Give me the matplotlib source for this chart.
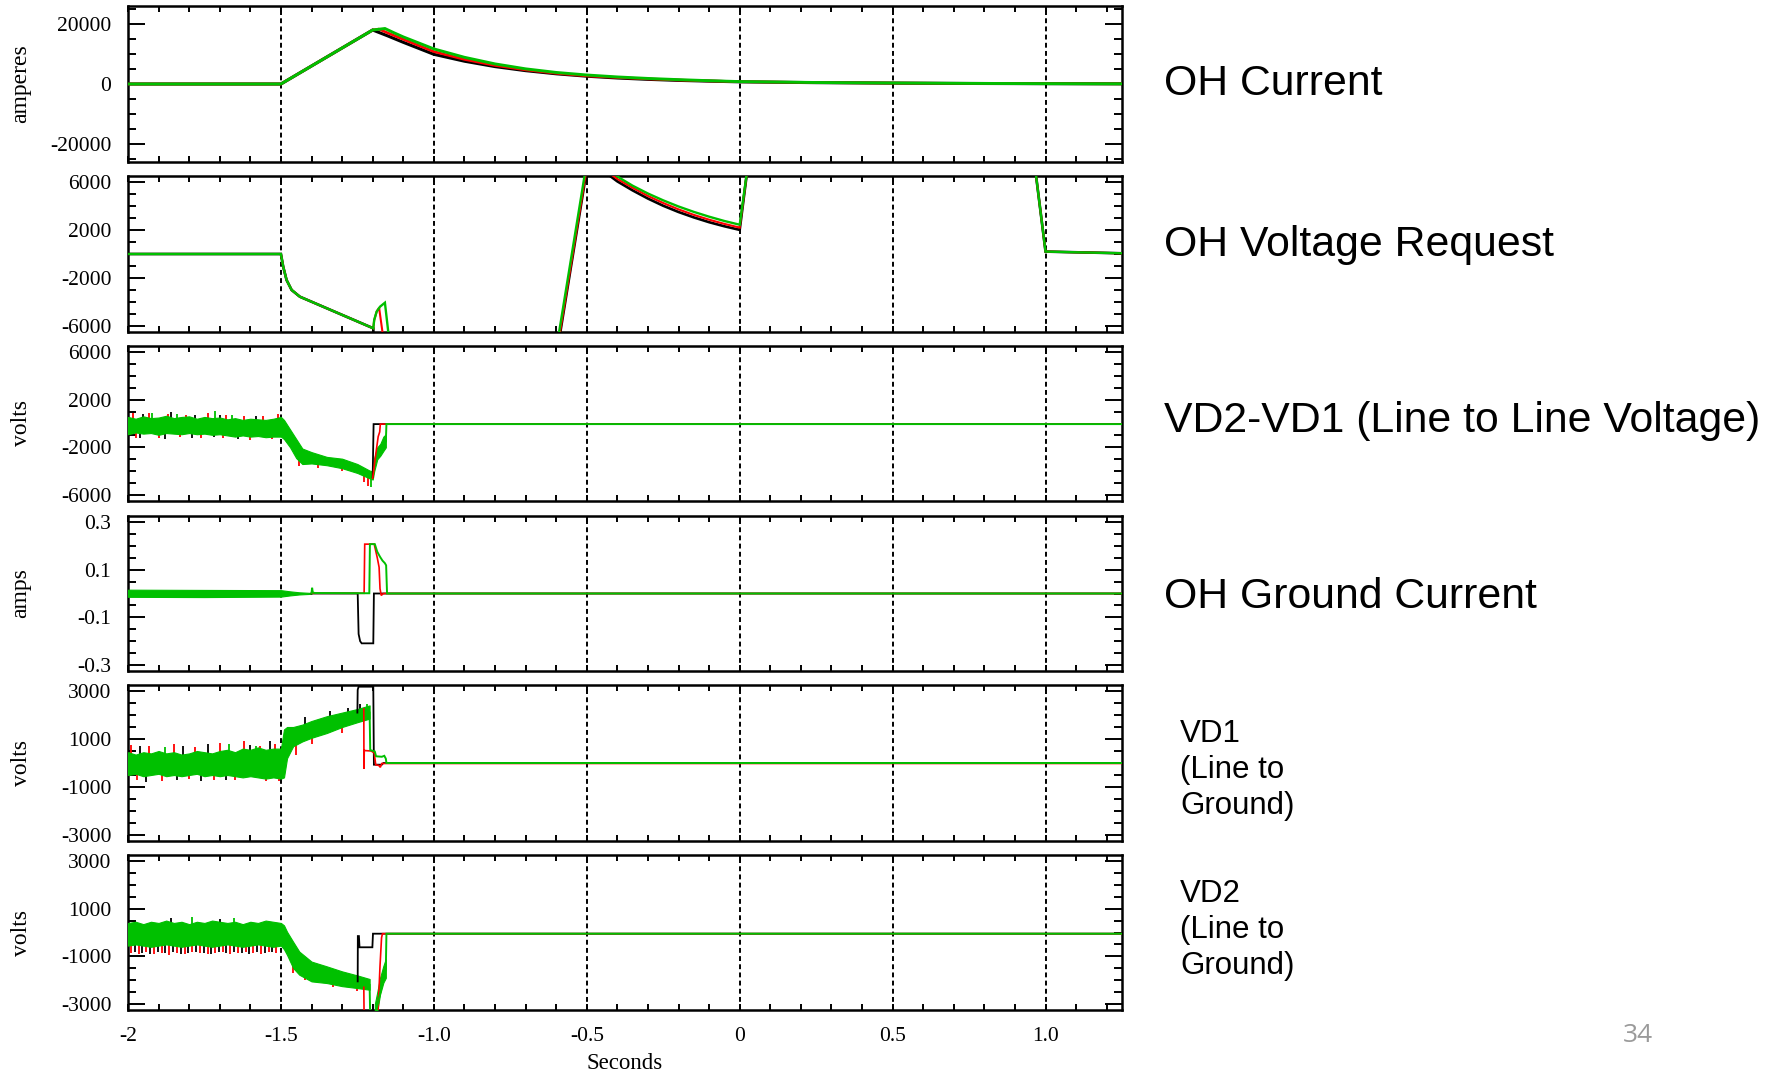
import numpy as np
import matplotlib
matplotlib.use("Agg")
import matplotlib.pyplot as plt
from matplotlib.ticker import MultipleLocator

plt.rcParams["font.family"] = ["Liberation Serif", "DejaVu Serif"]

# ---------------------------------------------------------------------
# data (seconds relative to the event, three shots: black / red / green)
# ---------------------------------------------------------------------

# OH current [A]
t_ohc_black = [-2.0, -1.5, -1.2, -1.15, -1.1, -1.0, -0.9, -0.8, -0.7, -0.6, -0.5,
               -0.4, -0.3, -0.2, -0.1, 0.0, 0.25, 0.5, 0.75, 1.0, 1.25]
ohc_black = [0, 0, 18000, 16000, 13900, 9900, 7600, 5800, 4450, 3400, 2600,
             2000, 1550, 1200, 950, 720, 450, 300, 180, 110, 55]
t_ohc_red = [-2.0, -1.5, -1.2, -1.18, -1.15, -1.1, -1.0, -0.9, -0.8, -0.7, -0.6,
             -0.5, -0.4, -0.3, -0.2, -0.1, 0.0, 0.25, 0.5, 0.75, 1.0, 1.25]
ohc_red = [0, 0, 18000, 18300, 17000, 14900, 10800, 8200, 6200, 4700, 3570,
           2700, 2170, 1700, 1320, 1020, 760, 470, 310, 190, 115, 58]
t_ohc_green = [-2.0, -1.5, -1.2, -1.16, -1.133, -1.1, -1.0, -0.9, -0.8, -0.7, -0.6,
               -0.5, -0.4, -0.3, -0.2, -0.1, 0.0, 0.25, 0.5, 0.75, 1.0, 1.25]
ohc_green = [0, 0, 18000, 18500, 17200, 15700, 11700, 8900, 6700, 5050, 3850,
             3000, 2350, 1850, 1450, 1100, 800, 500, 330, 200, 120, 60]

# OH voltage request [V] (goes off scale, clipped by the axes)
t_ohv_black = [-2.0, -1.5, -1.4925, -1.4815, -1.465, -1.438, -1.198, -1.196, -0.596,
               -0.481, -0.45, -0.40, -0.35, -0.30, -0.25, -0.20, -0.15, -0.10, -0.05,
               0.0, 0.03, 0.95, 1.0, 1.25]
ohv_black = [0, 0, -1060, -2170, -3000, -3560, -6190, -9000, -8000,
             10000, 7000, 6050, 5300, 4620, 4020, 3500, 3050, 2650, 2310,
             2010, 8000, 10400, 200, 60]
t_ohv_red = [-2.0, -1.5, -1.4925, -1.4815, -1.465, -1.438, -1.198, -1.195, -1.187,
             -1.179, -1.168, -1.162, -0.597, -0.482, -0.44, -0.40, -0.35, -0.30,
             -0.25, -0.20, -0.15, -0.10, -0.05, 0.0, 0.03, 0.95, 1.0, 1.25]
ohv_red = [0, 0, -1060, -2170, -3000, -3560, -6190, -5500, -4800,
           -4480, -6500, -9000, -8000, 10000, 7000, 6250, 5520, 4840,
           4250, 3720, 3260, 2860, 2510, 2200, 8000, 10400, 200, 60]
t_ohv_green = [-2.0, -1.5, -1.4925, -1.4815, -1.465, -1.438, -1.198, -1.195, -1.187,
               -1.176, -1.16, -1.149, -1.145, -0.60, -0.485, -0.43, -0.39, -0.35,
               -0.30, -0.25, -0.20, -0.15, -0.10, -0.05, 0.0, 0.03, 0.95, 1.0, 1.25]
ohv_green = [0, 0, -1060, -2170, -3000, -3560, -6190, -5500, -4800,
             -4390, -4060, -6500, -9000, -8000, 10000, 7000, 6300, 5690,
             5040, 4470, 3960, 3510, 3110, 2750, 2440, 8000, 10400, 200, 60]

# VD2-VD1 line to line voltage [V]
t_ll_band = [-2.0, -1.975, -1.95, -1.925, -1.9, -1.875, -1.85, -1.825, -1.8, -1.775,
             -1.75, -1.725, -1.7, -1.675, -1.65, -1.625, -1.6, -1.575, -1.55, -1.525,
             -1.5, -1.49, -1.47, -1.45, -1.43, -1.40, -1.35, -1.30, -1.25, -1.21,
             -1.20, -1.195, -1.185, -1.175, -1.165, -1.157]
ll_hi = [550, 400, 600, 450, 500, 650, 450, 550, 600, 400,
         550, 450, 500, 350, 450, 300, 400, 350, 300, 400,
         550, 300, -500, -1300, -2100, -2400, -2800, -2950, -3400, -3950,
         -4000, -2900, -2000, -1700, -1100, -900]
ll_lo = [-900, -750, -850, -800, -950, -800, -850, -900, -800, -900,
         -850, -950, -900, -1000, -1100, -1000, -1100, -1050, -1150, -1100,
         -1100, -1300, -2000, -2900, -3400, -3350, -3500, -3750, -4150, -4600,
         -4700, -4000, -3000, -2700, -2300, -2000]
ll_red_spk_t = [-1.985, -1.93, -1.87, -1.81, -1.74, -1.68, -1.62, -1.56, -1.51,
                -1.975, -1.9, -1.83, -1.76, -1.69, -1.6, -1.53,
                -1.44, -1.38, -1.30, -1.23, -1.215]
ll_red_spk_v = [900, 850, 800, 750, 850, 700, 650, 600, 800,
                -1250, -1200, -1150, -1200, -1250, -1350, -1300,
                -3600, -3700, -4000, -4900, -5200]
ll_blk_spk_t = [-1.95, -1.86, -1.78, -1.7, -1.58, -1.96, -1.88, -1.79, -1.72, -1.64, -1.54]
ll_blk_spk_v = [800, 950, 750, 700, 650, -1200, -1300, -1250, -1150, -1300, -1250]
ll_grn_spk_t = [-1.92, -1.84, -1.716, -1.66, -1.207]
ll_grn_spk_v = [850, 800, 1070, 700, -5300]
t_ll_black = [-1.2, -1.197, 1.25]
ll_black = [-4500, -50, -50]
t_ll_red = [-1.2, -1.19, -1.182, -1.177, -1.175, 1.25]
ll_red = [-4600, -2600, -1100, -700, -50, -50]
t_ll_green = [-1.157, -1.155, 1.25]
ll_green = [-1500, -50, -50]

# OH ground current [A]
t_gnd_band = [-2.0, -1.75, -1.5, -1.47, -1.44, -1.41, -1.40]
gnd_hi = [0.016, 0.015, 0.014, 0.009, 0.005, 0.003, 0.002]
gnd_lo = [-0.014, -0.015, -0.013, -0.008, -0.004, -0.002, -0.001]
t_gnd_black = [-1.40, -1.249, -1.246, -1.241, -1.236, -1.198, -1.196, 1.25]
gnd_black = [0.0, 0.0, -0.17, -0.2, -0.209, -0.209, 0.0, 0.0]
t_gnd_red = [-1.40, -1.228, -1.226, -1.195, -1.185, -1.179, -1.176, -1.172, -1.165, 1.25]
gnd_red = [0.001, 0.001, 0.207, 0.207, 0.15, 0.11, 0.02, -0.008, 0.0, 0.0]
t_gnd_green = [-1.40, -1.398, -1.396, -1.39, -1.211, -1.209, -1.193, -1.185, -1.176,
               -1.168, -1.16, -1.156, -1.153, 1.25]
gnd_green = [0.002, 0.024, 0.005, 0.002, 0.001, 0.207, 0.207, 0.175, 0.154,
             0.138, 0.127, 0.118, 0.0, 0.0]

# VD1 line to ground [V]
t_vd1_band = [-2.0, -1.975, -1.95, -1.925, -1.9, -1.875, -1.85, -1.825, -1.8, -1.775,
              -1.75, -1.725, -1.7, -1.675, -1.65, -1.625, -1.6, -1.575, -1.55, -1.525,
              -1.5, -1.49, -1.48, -1.46, -1.43, -1.40, -1.35, -1.30, -1.25, -1.21]
vd1_hi = [450, 350, 450, 400, 500, 400, 450, 350, 400, 500,
          450, 400, 500, 550, 450, 600, 550, 650, 550, 600,
          600, 1400, 1500, 1500, 1600, 1750, 1950, 2100, 2250, 2400]
vd1_lo = [-500, -450, -550, -500, -450, -550, -500, -550, -500, -450,
          -550, -500, -550, -500, -550, -600, -550, -600, -650, -600,
          -650, -600, 200, 700, 900, 1050, 1250, 1500, 1700, 1850]
vd1_red_spk_t = [-1.99, -1.93, -1.85, -1.78, -1.70, -1.62, -1.57, -1.52,
                 -1.97, -1.89, -1.80, -1.72, -1.65, -1.55, -1.505, -1.45, -1.40, -1.30]
vd1_red_spk_v = [750, 700, 800, 650, 850, 900, 700, 800,
                 -700, -750, -650, -700, -700, -750, -750, 350, 800, 1250]
vd1_blk_spk_t = [-1.96, -1.82, -1.74, -1.60, -1.535, -1.94, -1.84, -1.76, -1.68,
                 -1.42, -1.34, -1.28, -1.24]
vd1_blk_spk_v = [700, 700, 800, 750, 900, -800, -700, -750, -700,
                 1900, 2150, 2300, 2450]
vd1_grn_spk_t = [-1.88, -1.67, -1.58, -1.22]
vd1_grn_spk_v = [650, 800, 700, 2450]
t_vd1_black = [-1.25, -1.249, -1.246, -1.198, -1.196, -1.17, -1.165, 1.25]
vd1_black = [2100, 3050, 3180, 3180, -70, -70, 0, 0]
t_vd1_red = [-1.229, -1.2285, -1.2275, -1.205, -1.195, -1.19, -1.18, -1.175, -1.17, 1.25]
vd1_red = [2250, -250, 520, 500, 420, -80, -100, -180, -20, -20]
t_vd1_green = [-1.21, -1.208, -1.193, -1.189, -1.17, -1.162, -1.157, -1.155, 1.25]
vd1_green = [2100, 540, 480, 280, 260, 300, 180, 0, 0]

# VD2 line to ground [V]
t_vd2_band = [-2.0, -1.975, -1.95, -1.925, -1.9, -1.875, -1.85, -1.825, -1.8, -1.775,
              -1.75, -1.725, -1.7, -1.675, -1.65, -1.625, -1.6, -1.575, -1.55, -1.525,
              -1.5, -1.49, -1.48, -1.46, -1.44, -1.40, -1.35, -1.30, -1.25, -1.21]
vd2_hi = [400, 450, 350, 450, 400, 500, 400, 450, 350, 450,
          400, 500, 450, 400, 450, 350, 450, 400, 500, 450,
          400, 300, 30, -390, -800, -1220, -1420, -1630, -1800, -1950]
vd2_lo = [-550, -500, -550, -600, -550, -500, -550, -600, -550, -500,
          -550, -600, -550, -500, -550, -600, -550, -500, -550, -600,
          -550, -700, -940, -1490, -1770, -2050, -2120, -2250, -2330, -2400]
t_vd2_band2 = [-1.193, -1.185, -1.176, -1.165, -1.157]
vd2_hi2 = [-3000, -2500, -1900, -1400, -1100]
vd2_lo2 = [-3500, -3300, -2600, -2100, -1900]
vd2_red_spk_t = [-1.99, -1.965, -1.94, -1.915, -1.89, -1.865, -1.84, -1.815, -1.79, -1.765,
                 -1.74, -1.715, -1.69, -1.665, -1.64, -1.615, -1.59, -1.565, -1.54, -1.515,
                 -1.46, -1.42, -1.33, -1.25]
vd2_red_spk_v = [-850, -900, -800, -900, -850, -950, -850, -900, -800, -850,
                 -900, -850, -800, -900, -850, -800, -850, -900, -800, -850,
                 -1700, -2000, -2300, -2450]
vd2_blk_spk_t = [-1.978, -1.953, -1.928, -1.903, -1.878, -1.853, -1.828, -1.803, -1.778,
                 -1.753, -1.728, -1.703, -1.678, -1.653, -1.628, -1.603, -1.578, -1.553,
                 -1.528, -1.86, -1.70]
vd2_blk_spk_v = [-800, -850, -900, -800, -850, -800, -900, -850, -800,
                 -850, -900, -800, -850, -800, -850, -900, -800, -850,
                 -800, 600, 550]
vd2_grn_spk_t = [-1.79, -1.655]
vd2_grn_spk_v = [650, 600]
t_vd2_black = [-1.249, -1.2485, -1.245, -1.243, -1.201, -1.199, 1.25]
vd2_black = [-2050, -150, -150, -620, -620, -50, -50]
t_vd2_red = [-1.229, -1.228, -1.185, -1.182, -1.176, -1.171, -1.168, 1.25]
vd2_red = [-2300, -3600, -3600, -3200, -1400, -220, -50, -50]
t_vd2_green = [-1.21, -1.208, -1.194, -1.157, -1.155, 1.25]
vd2_green = [-2200, -3600, -3600, -1500, -50, -50]

# axes
X_TICKS = [-2.0, -1.5, -1.0, -0.5, 0.0, 0.5, 1.0]
X_LABELS = ["-2", "-1.5", "-1.0", "-0.5", "0", "0.5", "1.0"]
PANEL_TEXT = ["OH Current", "OH Voltage Request", "VD2-VD1 (Line to Line Voltage)",
              "OH Ground Current", "VD1\n(Line to\nGround)", "VD2\n(Line to\nGround)"]

# ---------------------------------------------------------------------
# layout / style
# ---------------------------------------------------------------------
FIG_W, FIG_H, DPI = 1777, 1071, 100
AX_LEFT, AX_RIGHT = 128, 1122
PANEL_PIX = [(6, 162), (176, 332), (346, 501), (516, 671), (685, 841), (855, 1010)]

BLACK = "#000000"
RED = "#ff0000"
GREEN = "#00c000"
DASH = (0, (2.5, 1.7))

PANEL_CFG = [
    dict(ylim=(-26000, 26000), ticks=[-20000, 0, 20000], labels=["-20000", "0", "20000"],
         minor=5000, ylabel="amperes"),
    dict(ylim=(-6500, 6500), ticks=[-6000, -2000, 2000, 6000],
         labels=["-6000", "-2000", "2000", "6000"], minor=1000, ylabel=""),
    dict(ylim=(-6500, 6500), ticks=[-6000, -2000, 2000, 6000],
         labels=["-6000", "-2000", "2000", "6000"], minor=1000, ylabel="volts"),
    dict(ylim=(-0.325, 0.325), ticks=[-0.3, -0.1, 0.1, 0.3],
         labels=["-0.3", "-0.1", "0.1", "0.3"], minor=0.05, ylabel="amps"),
    dict(ylim=(-3250, 3250), ticks=[-3000, -1000, 1000, 3000],
         labels=["-3000", "-1000", "1000", "3000"], minor=500, ylabel="volts"),
    dict(ylim=(-3250, 3250), ticks=[-3000, -1000, 1000, 3000],
         labels=["-3000", "-1000", "1000", "3000"], minor=500, ylabel="volts"),
]


def style_axis(ax, cfg, show_x):
    ax.set_xlim(-2.0, 1.25)
    ax.set_ylim(*cfg["ylim"])
    ax.set_xticks(X_TICKS)
    ax.xaxis.set_minor_locator(MultipleLocator(0.1))
    ax.set_yticks(cfg["ticks"])
    ax.set_yticklabels(cfg["labels"])
    ax.yaxis.set_minor_locator(MultipleLocator(cfg["minor"]))
    ax.tick_params(axis="both", which="both", direction="in", top=True, right=True,
                   width=1.4, color="black")
    ax.tick_params(axis="y", which="major", length=12, pad=12, labelsize=15.5)
    ax.tick_params(axis="y", which="minor", length=6)
    ax.tick_params(axis="x", which="both", length=4, pad=12, labelsize=15.5)
    if show_x:
        ax.set_xticklabels(X_LABELS)
    else:
        ax.tick_params(axis="x", labelbottom=False)
    ax.grid(axis="x", which="major", color="black", linestyle=DASH, linewidth=1.4)
    ax.set_axisbelow(True)
    for sp in ax.spines.values():
        sp.set_linewidth(1.8)
    if cfg["ylabel"]:
        ax.set_ylabel(cfg["ylabel"], fontsize=17)
        ax.yaxis.set_label_coords(-0.097, 0.5)


def line(ax, t, v, color, lw, z):
    ax.plot(t, v, color=color, linewidth=lw, zorder=z, solid_joinstyle="miter")


def band(ax, t, lo, hi, color=GREEN, z=3):
    ax.fill_between(t, lo, hi, color=color, linewidth=0.8, zorder=z)


def spikes(ax, t, tips, band_t, band_lo, band_hi, color, z):
    mid = (np.asarray(band_lo, float) + np.asarray(band_hi, float)) / 2
    base = np.interp(t, band_t, mid)
    ax.vlines(t, base, tips, colors=color, linewidth=1.3, zorder=z)


fig = plt.figure(figsize=(FIG_W / DPI, FIG_H / DPI), dpi=DPI)
axes = []
for i, (top, bot) in enumerate(PANEL_PIX):
    ax = fig.add_axes([AX_LEFT / FIG_W, 1 - bot / FIG_H,
                       (AX_RIGHT - AX_LEFT) / FIG_W, (bot - top) / FIG_H])
    style_axis(ax, PANEL_CFG[i], show_x=(i == len(PANEL_PIX) - 1))
    axes.append(ax)

# OH current
ax = axes[0]
line(ax, t_ohc_black, ohc_black, BLACK, 2.2, 4)
line(ax, t_ohc_red, ohc_red, RED, 1.9, 5)
line(ax, t_ohc_green, ohc_green, GREEN, 2.1, 6)

# OH voltage request
ax = axes[1]
line(ax, t_ohv_black, ohv_black, BLACK, 1.9, 4)
line(ax, t_ohv_red, ohv_red, RED, 1.5, 5)
line(ax, t_ohv_green, ohv_green, GREEN, 1.7, 6)

# VD2-VD1
ax = axes[2]
spikes(ax, ll_blk_spk_t, ll_blk_spk_v, t_ll_band, ll_lo, ll_hi, BLACK, 2)
spikes(ax, ll_red_spk_t, ll_red_spk_v, t_ll_band, ll_lo, ll_hi, RED, 2.5)
band(ax, t_ll_band, ll_lo, ll_hi)
spikes(ax, ll_grn_spk_t, ll_grn_spk_v, t_ll_band, ll_lo, ll_hi, GREEN, 3.2)
line(ax, t_ll_black, ll_black, BLACK, 1.3, 4)
line(ax, t_ll_red, ll_red, RED, 1.2, 5)
line(ax, t_ll_green, ll_green, GREEN, 1.4, 6)

# OH ground current
ax = axes[3]
band(ax, t_gnd_band, gnd_lo, gnd_hi)
line(ax, t_gnd_black, gnd_black, BLACK, 1.3, 4)
line(ax, t_gnd_red, gnd_red, RED, 1.2, 5)
line(ax, t_gnd_green, gnd_green, GREEN, 1.4, 6)

# VD1
ax = axes[4]
spikes(ax, vd1_blk_spk_t, vd1_blk_spk_v, t_vd1_band, vd1_lo, vd1_hi, BLACK, 2)
spikes(ax, vd1_red_spk_t, vd1_red_spk_v, t_vd1_band, vd1_lo, vd1_hi, RED, 2.5)
band(ax, t_vd1_band, vd1_lo, vd1_hi)
spikes(ax, vd1_grn_spk_t, vd1_grn_spk_v, t_vd1_band, vd1_lo, vd1_hi, GREEN, 3.2)
line(ax, t_vd1_black, vd1_black, BLACK, 1.3, 4)
line(ax, t_vd1_red, vd1_red, RED, 1.2, 5)
line(ax, t_vd1_green, vd1_green, GREEN, 1.4, 6)

# VD2
ax = axes[5]
spikes(ax, vd2_blk_spk_t, vd2_blk_spk_v, t_vd2_band, vd2_lo, vd2_hi, BLACK, 2)
spikes(ax, vd2_red_spk_t, vd2_red_spk_v, t_vd2_band, vd2_lo, vd2_hi, RED, 2.5)
band(ax, t_vd2_band, vd2_lo, vd2_hi)
band(ax, t_vd2_band2, vd2_lo2, vd2_hi2)
spikes(ax, vd2_grn_spk_t, vd2_grn_spk_v, t_vd2_band, vd2_lo, vd2_hi, GREEN, 3.2)
line(ax, t_vd2_black, vd2_black, BLACK, 1.3, 4)
line(ax, t_vd2_red, vd2_red, RED, 1.2, 5)
line(ax, t_vd2_green, vd2_green, GREEN, 1.4, 6)
ax.set_xlabel("Seconds", fontsize=16.5, labelpad=5)

# panel captions on the right
SANS = ["Liberation Sans", "DejaVu Sans"]
caption_pos = [(1164, 84), (1164, 245), (1164, 421), (1164, 597), (1180, 770), (1180, 930)]
for i, (txt, (px, py)) in enumerate(zip(PANEL_TEXT, caption_pos)):
    fig.text(px / FIG_W, 1 - py / FIG_H, txt, family=SANS,
             fontsize=30.8 if i < 4 else 22.5, ha="left", va="center", linespacing=1.28)

fig.text(1638 / FIG_W, 1 - 1035 / FIG_H, "34", family=["Open Sans", "DejaVu Sans"],
         fontsize=19, color="#9a9a9a", ha="center", va="center")

fig.savefig("out.png", dpi=DPI)
